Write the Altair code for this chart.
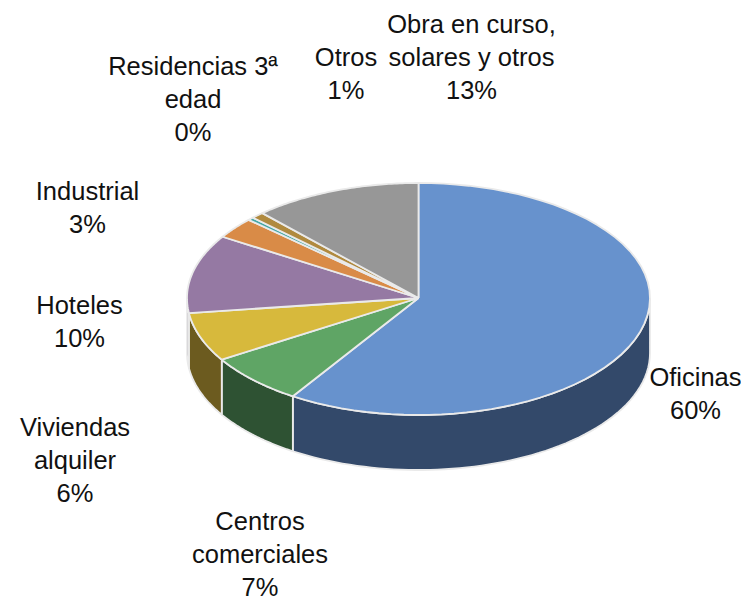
import altair as alt
import pandas as pd

# ---- data ----
categories = ["Oficinas", "Centros comerciales", "Viviendas alquiler", "Hoteles",
              "Industrial", "Residencias 3ª edad", "Otros",
              "Obra en curso, solares y otros"]
shares = [60.2, 6.9, 6.1, 9.8, 2.8, 0.4, 0.9, 12.9]
label_text = ["Oficinas", "Centros\ncomerciales", "Viviendas\nalquiler", "Hoteles",
              "Industrial", "Residencias 3ª\nedad", "Otros",
              "Obra en curso,\nsolares y otros"]

# ---- style / layout ----
top_colors = ["#6792CD", "#5FA565", "#D7B93C", "#9579A3",
              "#D98B47", "#45A8A6", "#B08A3F", "#979797"]
side_colors = ["#33496A", "#2E5233", "#6C5B1F", "#4B3C52",
               "#6C4523", "#225453", "#58451F", "#4B4B4B"]
# label anchor (first-line middle), plot coordinates
label_pos = [(687.5, 369.8), (252, 514.0), (67, 419.8), (71.5, 297.5),
             (79.5, 184.1), (185, 58.8), (338, 49.8), (463.5, 16.8)]

W, H = 733, 593
CX, CY = 410.5, 290.0
A, BU, BD, DEPTH = 231.5, 115.0, 117.0, 55.0
WARP = 0.07          # slight projection warp of the tilted disc
N = 60
EDGE = "#EAEAEA"
FONT = "Liberation Sans"

df = pd.DataFrame({
    "idx": list(range(len(categories))),
    "category": categories,
    "value": shares,
    "lab": label_text,
    "top": top_colors,
    "side": side_colors,
    "lx": [p[0] for p in label_pos],
    "ly": [p[1] for p in label_pos],
})

xs = alt.Scale(domain=[0, W], nice=False, zero=False)
ys = alt.Scale(domain=[0, H], reverse=True, nice=False, zero=False)


def base():
    return (
        alt.Chart(df)
        .transform_joinaggregate(total="sum(value)")
        .transform_window(cum="sum(value)", sort=[alt.SortField("idx")], frame=[None, 0])
        .transform_calculate(
            a0="2*PI*(datum.cum-datum.value)/datum.total",
            a1="2*PI*datum.cum/datum.total",
        )
    )


def ey(a):
    return f"{CY}-(cos({a})>0?{BU}:{BD})*cos({a})"


def warp(a):
    return f"({a})-{WARP}*sin(2*({a}))"


# side walls (front half of the cylinder)
wall = (
    base()
    .transform_calculate(w0="max(datum.a0, PI/2)", w1="min(datum.a1, 3*PI/2)")
    .transform_filter("datum.w1 > datum.w0")
    .transform_calculate(k=f"sequence(0,{2 * N + 3})")
    .transform_flatten(["k"])
    .transform_calculate(
        t=f"datum.k<={N} ? datum.k/{N} : (datum.k<={2 * N + 1} ? ({2 * N + 1}-datum.k)/{N} : 0)",
        bot=f"(datum.k>{N} && datum.k<={2 * N + 1}) ? 1 : 0",
    )
    .transform_calculate(ang=warp("datum.w0+(datum.w1-datum.w0)*datum.t"))
    .transform_calculate(
        px=f"{CX}+{A}*sin(datum.ang)",
        py=ey("datum.ang") + f"+datum.bot*{DEPTH}",
    )
    .mark_line(stroke=EDGE, strokeWidth=1.8, strokeJoin="round")
    .encode(
        x=alt.X("px:Q", scale=xs, axis=None),
        y=alt.Y("py:Q", scale=ys, axis=None),
        order=alt.Order("k:Q"),
        detail="category:N",
        fill=alt.Fill("side:N", scale=None, legend=None),
    )
)

# top face
top = (
    base()
    .transform_calculate(k=f"sequence(0,{N + 3})")
    .transform_flatten(["k"])
    .transform_calculate(ang=warp(f"datum.a0+(datum.a1-datum.a0)*clamp(datum.k-1,0,{N})/{N}"))
    .transform_calculate(
        px=f"(datum.k==0||datum.k=={N + 2}) ? {CX} : {CX}+{A}*sin(datum.ang)",
        py=f"(datum.k==0||datum.k=={N + 2}) ? {CY} : " + ey("datum.ang"),
    )
    .mark_line(stroke=EDGE, strokeWidth=1.8, strokeJoin="round")
    .encode(
        x=alt.X("px:Q", scale=xs, axis=None),
        y=alt.Y("py:Q", scale=ys, axis=None),
        order=alt.Order("k:Q"),
        detail="category:N",
        fill=alt.Fill("top:N", scale=None, legend=None),
    )
)

labels = (
    base()
    .transform_calculate(txt="datum.lab + '\\n' + format(datum.value/datum.total, '.0%')")
    .mark_text(lineBreak="\n", font=FONT, fontSize=25.5, lineHeight=33,
               align="center", baseline="middle", color="#111111")
    .encode(
        x=alt.X("lx:Q", scale=xs, axis=None),
        y=alt.Y("ly:Q", scale=ys, axis=None),
        text="txt:N",
    )
)

chart = (
    alt.layer(wall, top, labels)
    .properties(width=W, height=H, padding=0, autosize="none", background="white")
    .configure_view(stroke=None)
)

chart.save("out.html", embed_options={"renderer": "svg", "actions": False})
